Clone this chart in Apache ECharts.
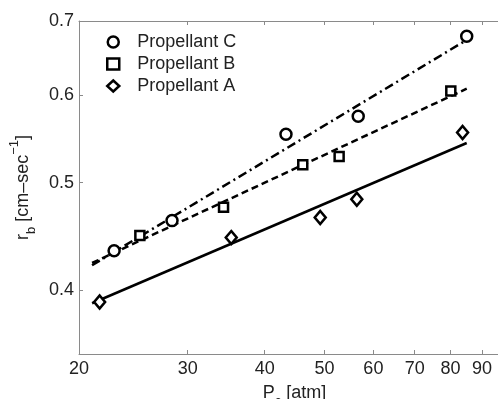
<!DOCTYPE html>
<html>
<head>
<meta charset="utf-8">
<script src="https://cdn.jsdelivr.net/npm/echarts@6/dist/echarts.min.js"></script>
<style>
html,body{margin:0;padding:0;background:#fff;}
#c{width:498px;height:399px;}
</style>
</head>
<body>
<div id="c"></div>
<script>
// Data (raw values; axes are logarithmic)
const xTicks = [20, 30, 40, 50, 60, 70, 80, 90];
const yTicks = [0.4, 0.5, 0.6, 0.7];
const xC = [22.8, 28.3, 43.3, 56.7, 85.0];
const yC = [0.434, 0.462, 0.553, 0.574, 0.678];
const xB = [25.1, 34.3, 46.1, 52.8, 80.1];
const yB = [0.448, 0.475, 0.519, 0.528, 0.605];
const xA = [21.6, 35.3, 49.2, 56.4, 83.7];
const yA = [0.390, 0.446, 0.465, 0.483, 0.555];
const fitX = [21, 85];
const fitC = [0.421, 0.673];
const fitB = [0.423, 0.608];
const fitA = [0.389, 0.543];
const names = ['Propellant C', 'Propellant B', 'Propellant A'];

const L = Math.log10;
const pts = (xs, ys) => xs.map((x, i) => [L(x), L(ys[i])]);
const FONT = 'Liberation Sans';
const axisGray = '#8a8a8a';
const txt = '#222';

const chart = echarts.init(document.getElementById('c'), null, {renderer: 'canvas'});
const xMin = L(20), xMax = L(103.7), yMin = L(0.35), yMax = L(0.7);
const tickStyle = {show: true, inside: true, length: 4, lineStyle: {color: axisGray, width: 1}, customValues: xTicks.map(L)};

const markerStyle = {color: '#fff', borderColor: '#000', borderWidth: 2.5, opacity: 1};

chart.setOption({
  animation: false,
  textStyle: {fontFamily: FONT},
  grid: {left: 79, right: -22, top: 21, bottom: 45, containLabel: false, outerBoundsMode: 'none'},
  legend: {
    orient: 'vertical', left: 101, top: 28, itemWidth: 12, itemHeight: 11, itemGap: 4,
    textStyle: {fontFamily: FONT, fontSize: 18, color: txt, padding: [0, 0, 0, 13]},
    data: [
      {name: names[0], icon: 'circle', itemStyle: markerStyle},
      {name: names[1], icon: 'rect', itemStyle: Object.assign({}, markerStyle)},
      {name: names[2], icon: 'diamond', itemStyle: Object.assign({}, markerStyle)}
    ]
  },
  xAxis: [{
    type: 'value', min: xMin, max: xMax, position: 'bottom',
    axisLine: {show: true, onZero: false, lineStyle: {color: axisGray, width: 1}},
    axisTick: tickStyle,
    splitLine: {show: false},
    axisLabel: {
      customValues: xTicks.map(L), margin: 6, fontSize: 18, color: txt, fontFamily: FONT,
      formatter: v => String(Math.round(Math.pow(10, v)))
    },
    name: '{m|P}{sub|c}{m| [atm]}', nameLocation: 'middle', nameGap: 24,
    nameTextStyle: {
      padding: [0, 10, 0, 0],
      rich: {
        m: {fontSize: 18, color: txt, fontFamily: FONT, lineHeight: 22},
        sub: {fontSize: 13, color: txt, fontFamily: FONT, verticalAlign: 'bottom', lineHeight: 30}
      }
    }
  }, {
    type: 'value', min: xMin, max: xMax, position: 'top',
    axisLine: {show: true, onZero: false, lineStyle: {color: axisGray, width: 1}},
    axisTick: tickStyle,
    axisLabel: {show: false}, splitLine: {show: false}
  }],
  yAxis: [{
    type: 'value', min: yMin, max: yMax,
    axisLine: {show: true, onZero: false, lineStyle: {color: axisGray, width: 1}},
    axisTick: {show: true, inside: true, length: 4, lineStyle: {color: axisGray, width: 1}, customValues: yTicks.map(L)},
    splitLine: {show: false},
    axisLabel: {
      customValues: yTicks.map(L), margin: 5, fontSize: 18, color: txt, fontFamily: FONT,
      formatter: v => Math.pow(10, v).toFixed(1)
    },
    name: '{m|r}{sub|b}{m| [cm–sec}{sup|−1}{m|]}', nameLocation: 'middle', nameGap: 35,
    nameTextStyle: {
      rich: {
        m: {fontSize: 18, color: txt, fontFamily: FONT, lineHeight: 22},
        sub: {fontSize: 13, color: txt, fontFamily: FONT, verticalAlign: 'bottom', lineHeight: 30},
        sup: {fontSize: 13, color: txt, fontFamily: FONT, verticalAlign: 'top', lineHeight: 30}
      }
    }
  }],
  series: [
    {type: 'line', data: pts(fitX, fitC), symbol: 'none', silent: true,
     lineStyle: {color: '#000', width: 2.5, type: [9, 4, 2, 4]}},
    {type: 'line', data: pts(fitX, fitB), symbol: 'none', silent: true,
     lineStyle: {color: '#000', width: 2.5, type: [7, 4]}},
    {type: 'line', data: pts(fitX, fitA), symbol: 'none', silent: true,
     lineStyle: {color: '#000', width: 2.5, type: 'solid'}},
    {name: names[0], type: 'scatter', data: pts(xC, yC), symbol: 'circle', symbolSize: 11, itemStyle: markerStyle, z: 5},
    {name: names[1], type: 'scatter', data: pts(xB, yB), symbol: 'rect', symbolSize: 9, itemStyle: markerStyle, z: 5},
    {name: names[2], type: 'scatter', data: pts(xA, yA), symbol: 'diamond', symbolSize: [11, 13], itemStyle: markerStyle, z: 5}
  ]
});
</script>
</body>
</html>
